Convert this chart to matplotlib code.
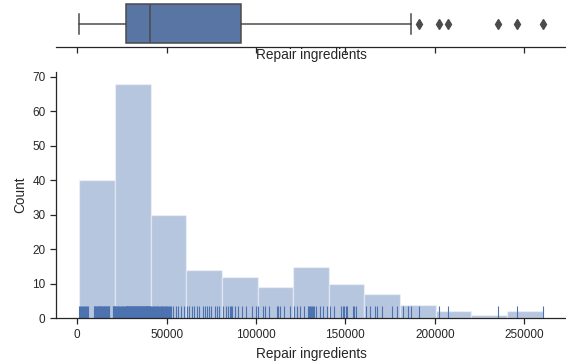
import numpy as np
import matplotlib
matplotlib.use("Agg")
import matplotlib.pyplot as plt

# ---- data: repair ingredients, one value per record ----
bin1_low = [1100, 1800, 2300, 2900, 3400, 3900, 4500, 5100, 5600, 6200]
bin1_high = [9200, 9700, 10000, 10300, 10800, 11200, 11700, 12100, 12300, 12600,
             13000, 13400, 13900, 14000, 14300, 14800, 15200, 15600, 15900, 16100,
             16500, 17000, 17400, 17600, 17700, 19900, 20100, 20400, 20700, 20900]
bin2 = [21200, 21700, 22100, 22600, 23000, 23500, 23900, 24400, 24800, 25300,
        25700, 26200, 26600,
        27100, 27300, 27600, 27800, 28100, 28400, 28600, 28900, 29100, 29400,
        29700, 29900, 30200, 30400, 30700, 31000, 31200, 31500, 31700, 32000,
        32300, 32500, 32800, 33000, 33300, 33600, 33800, 34100, 34300, 34600,
        34900, 35100, 35400, 35600, 35900, 36200, 36400, 36700, 36900, 37200,
        37500, 37700, 38000, 38200, 38500, 38800, 39000, 39300, 39500, 39800,
        40000, 40200, 40400, 40600, 40800]
bin3 = [41300, 41800, 42200, 42700, 43100, 43600, 44000, 44500, 44900, 45400,
        45800, 46300, 46700, 47200, 47600, 48100, 48500, 49000, 49400, 49900,
        50300, 50800, 51300, 52000, 52700, 53500, 55200, 56400, 57900, 59700]
bin4 = [61400, 62700, 64200, 65500, 66800, 68200, 70100, 71200, 72600, 73900,
        74800, 76800, 78100, 79400]
bin5 = [81500, 83000, 84600, 85500, 86200, 86800, 88400, 89900, 92100, 94300,
        97600, 100000]
bin6 = [101200, 104100, 105000, 107500, 111800, 112500, 113600, 115800, 118900]
bin7 = [121400, 122900, 124500, 127000, 128900, 129800, 130300, 130700, 131200,
        131700, 132600, 133800, 135800, 137500, 139600]
bin8 = [141500, 143800, 147300, 148600, 149200, 150100, 151000, 154200, 154700,
        155700]
bin9 = [161600, 163500, 166300, 167600, 170400, 175900, 178700]
tail = [182000, 184800, 186700, 191200, 202600, 207600, 235100, 246100, 260400]

repair = np.array(bin1_low + bin1_high + bin2 + bin3 + bin4 + bin5 + bin6
                  + bin7 + bin8 + bin9 + tail, dtype=float)

XLABEL = "Repair ingredients"
N_BINS = 13

# ---- style ----
BLUE = "#4c72b0"
BOX_FACE = "#5875a4"
BOX_LINE = "#4b4b4b"
DARK = "#262626"
plt.rcParams["font.family"] = ["Liberation Sans", "DejaVu Sans"]

W, H = 566, 362
fig = plt.figure(figsize=(W / 100, H / 100), dpi=100)

# axes placed in pixel units: (left, top, right, bottom)
ax_hist = fig.add_axes([56 / W, 1 - 318.3 / H, 510 / W, (318.3 - 72) / H])
ax_box = fig.add_axes([56 / W, 1 - 47 / H, 510 / W, 47 / H], sharex=ax_hist)

# ---- boxplot ----
ax_box.boxplot(repair, vert=False, widths=0.8, positions=[0], patch_artist=True,
               boxprops=dict(facecolor=BOX_FACE, edgecolor=BOX_LINE, linewidth=1.1),
               medianprops=dict(color=BOX_LINE, linewidth=1.1),
               whiskerprops=dict(color=BOX_LINE, linewidth=1.1),
               capprops=dict(color=BOX_LINE, linewidth=1.1),
               flierprops=dict(marker="d", markerfacecolor=BOX_LINE,
                               markeredgecolor=BOX_LINE, markersize=5.5))
ax_box.set_ylim(-0.473, 0.488)
ax_box.set_yticks([])
for s in ["top", "right", "left"]:
    ax_box.spines[s].set_visible(False)
ax_box.spines["bottom"].set_linewidth(0.9)
ax_box.spines["bottom"].set_color(DARK)
ax_box.tick_params(axis="x", labelbottom=False, length=4, width=0.9, color=DARK)
ax_box.set_xlabel(XLABEL, fontsize=9.8, color=DARK)
ax_box.xaxis.set_label_coords(0.5, -0.03)

# ---- histogram + rug ----
ax_hist.hist(repair, bins=N_BINS, color=BLUE, alpha=0.4, edgecolor="white",
             linewidth=1.0)
ax_hist.vlines(repair, 0, 0.05, transform=ax_hist.get_xaxis_transform(),
               color=BLUE, linewidth=0.8)
ax_hist.set_ylim(0, 71.4)
ax_hist.set_yticks(range(0, 71, 10))
ax_hist.set_xticks([0, 50000, 100000, 150000, 200000, 250000])
ax_hist.set_xlim(repair.min() - 0.05 * np.ptp(repair), repair.max() + 0.05 * np.ptp(repair))
for s in ["top", "right"]:
    ax_hist.spines[s].set_visible(False)
for s in ["left", "bottom"]:
    ax_hist.spines[s].set_linewidth(0.9)
    ax_hist.spines[s].set_color(DARK)
ax_hist.tick_params(labelsize=8.5, length=4, width=0.9, color=DARK, labelcolor=DARK)
ax_hist.set_xlabel(XLABEL, fontsize=9.8, color=DARK, labelpad=4.5)
ax_hist.set_ylabel("Count", fontsize=9.8, color=DARK)

fig.savefig("out.png", dpi=100)
